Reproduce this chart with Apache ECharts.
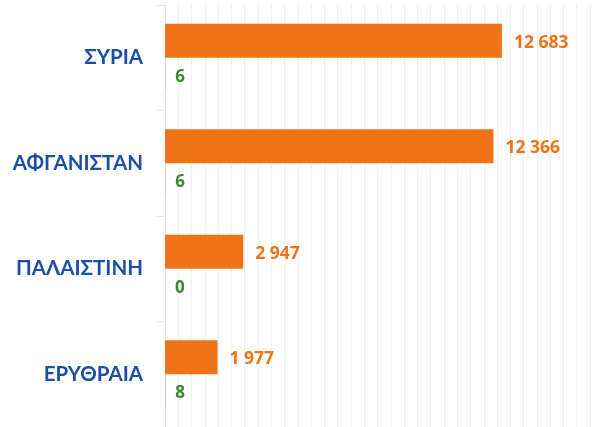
<!DOCTYPE html>
<html>
<head>
<meta charset="utf-8">
<script src="https://cdn.jsdelivr.net/npm/echarts@6/dist/echarts.min.js"></script>
<style>
  html, body { margin: 0; padding: 0; background: #fff; }
  #chart { width: 593px; height: 427px; }
</style>
</head>
<body>
<div id="chart"></div>
<script>
// categories (top to bottom)
const countries = ['ΣΥΡΙΑ', 'ΑΦΓΑΝΙΣΤΑΝ', 'ΠΑΛΑΙΣΤΙΝΗ', 'ΕΡΥΘΡΑΙΑ'];
// orange series
const applications = [12683, 12366, 2947, 1977];
// green series
const granted = [6, 6, 0, 8];

const FONT = 'Lato, "Noto Sans", sans-serif';
const NUM_FONT = '"Open Sans", sans-serif';

// 12683 -> "12 683"
function fmt(v) {
  return String(v).replace(/\B(?=(\d{3})+(?!\d))/g, ' ');
}

const chart = echarts.init(document.getElementById('chart'));

const option = {
  backgroundColor: '#fff',
  animation: false,
  grid: {
    left: 165,
    right: 3,
    top: 5,
    bottom: -3
  },
  xAxis: {
    type: 'value',
    min: 0,
    max: 16000,
    interval: 500,
    axisLabel: { show: false },
    axisLine: { show: false },
    axisTick: { show: false },
    splitLine: {
      lineStyle: { color: '#efefef', width: 1 }
    }
  },
  yAxis: {
    type: 'category',
    inverse: true,
    data: countries,
    axisLine: {
      show: true,
      lineStyle: { color: '#e6e6e6' }
    },
    axisTick: {
      show: true,
      length: 8,
      lineStyle: { color: '#e6e6e6' }
    },
    axisLabel: {
      margin: 22,
      color: '#1b4ea9',
      fontFamily: FONT,
      fontWeight: 'bold',
      fontSize: 20.5
    }
  },
  series: [
    {
      name: 'applications',
      type: 'bar',
      data: applications,
      barWidth: 34,
      barGap: 0,
      itemStyle: { color: '#f07318' },
      label: {
        show: true,
        position: 'right',
        distance: 12,
        offset: [0, 2],
        color: '#f07318',
        fontFamily: NUM_FONT,
        fontWeight: 'bold',
        fontSize: 17.5,
        formatter: p => fmt(p.value)
      }
    },
    {
      name: 'granted',
      type: 'bar',
      data: granted,
      barWidth: 34,
      barGap: 0,
      itemStyle: { color: '#3a8a2c' },
      label: {
        show: true,
        position: 'right',
        distance: 10,
        offset: [0, 2],
        color: '#3a8a2c',
        fontFamily: NUM_FONT,
        fontWeight: 'bold',
        fontSize: 17,
        formatter: p => fmt(p.value)
      }
    }
  ]
};

chart.setOption(option);
</script>
</body>
</html>
